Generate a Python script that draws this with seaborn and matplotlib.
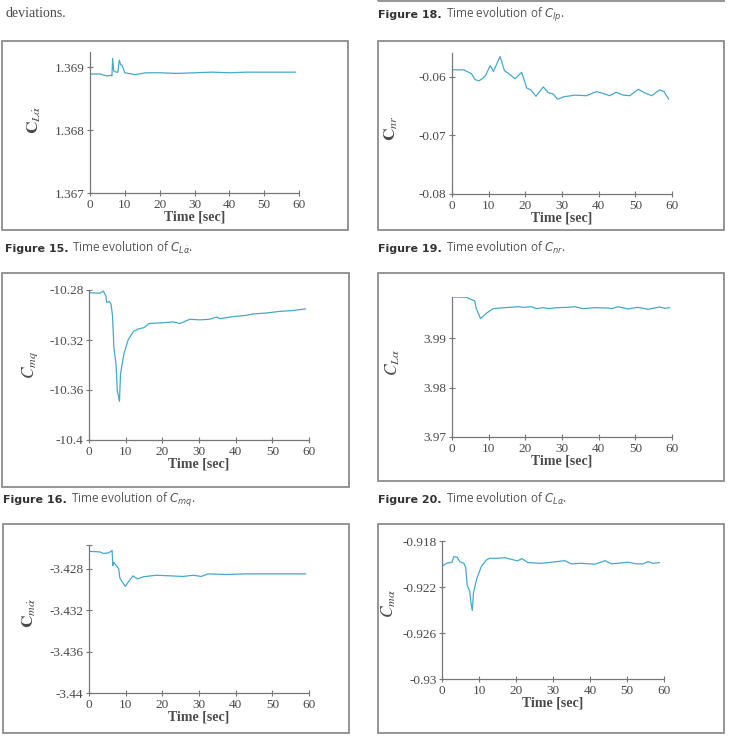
import matplotlib
matplotlib.use('Agg')
import matplotlib.pyplot as plt
import seaborn as sns
import pandas as pd
from matplotlib.patches import Rectangle

sns.set_theme(style='white')
plt.rcParams['font.family'] = ['Liberation Serif', 'DejaVu Serif']
plt.rcParams['mathtext.fontset'] = 'stix'
plt.rcParams['axes.unicode_minus'] = False

W, H = 731, 744
LINE = '#45a9cc'
GREY = '#8c8c8c'
TXT = '#4a4a4a'

# --- data ---
t_lad = [0, 3, 4, 5, 6, 6.3, 6.5, 6.8, 7.5, 8, 8.4, 8.8, 9.2, 10, 11, 13, 14, 16,
         20, 25, 30, 35, 40, 45, 50, 55, 59]
c_lad = [1.36889, 1.36889, 1.36887, 1.36886, 1.36887, 1.36886, 1.36914, 1.36894,
         1.36892, 1.36892, 1.36911, 1.36904, 1.36903, 1.36891, 1.36890, 1.36888,
         1.36889, 1.36891, 1.36891, 1.36890, 1.36891, 1.36892, 1.36891, 1.36892,
         1.36892, 1.36892, 1.36892]

t_nr = [0, 3.2, 5.3, 6.3, 7.3, 8.3, 9.2, 10.4, 11.3, 13.1, 14.3, 15.4, 17.2, 19,
        20.4, 21.5, 22.9, 24.9, 26.3, 27.6, 28.8, 30.4, 33.5, 36.7, 39.4, 41.7,
        43, 44.8, 46.7, 48.5, 50.8, 52.5, 54.5, 56.6, 57.8, 59.1]
c_nr = [-0.05878, -0.05878, -0.05944, -0.06044, -0.06067, -0.06028, -0.05972,
        -0.05806, -0.05906, -0.0565, -0.0589, -0.0594, -0.0603, -0.0592, -0.0619,
        -0.0622, -0.0633, -0.0617, -0.0627, -0.0629, -0.0638, -0.0634, -0.0631,
        -0.0632, -0.0625, -0.0629, -0.0632, -0.0626, -0.0631, -0.0632, -0.0621,
        -0.0627, -0.0632, -0.0622, -0.0625, -0.0638]

t_mq = [0, 3, 3.9, 4.6, 4.8, 5.5, 6.0, 6.4, 6.8, 7.4, 7.7, 8.3, 8.6, 9.5, 10.7,
        12.1, 13.4, 15, 16.4, 20.2, 23, 24.8, 27.5, 30.2, 32.9, 34.8, 35.7, 39.3,
        42.9, 44.7, 48.4, 52, 55.6, 59.1]
c_mq = [-10.2821, -10.2826, -10.2808, -10.2847, -10.2899, -10.2891, -10.2912,
        -10.3003, -10.3262, -10.3405, -10.36, -10.3691, -10.347, -10.3314,
        -10.3197, -10.3132, -10.3112, -10.3101, -10.3068, -10.3062, -10.3055,
        -10.3068, -10.3034, -10.3039, -10.3034, -10.3016, -10.3029, -10.3013,
        -10.3003, -10.2992, -10.2984, -10.2971, -10.2964, -10.2951]

t_la = [0.3, 3.9, 5.3, 6.2, 6.6, 7.8, 9.4, 11.2, 14.4, 18, 19.8, 21.6, 23, 24.8,
        26.6, 28.5, 31.6, 33.5, 35.7, 38.9, 42.5, 43.5, 45.3, 48, 50.7, 53.5,
        56.6, 58, 59.4]
c_la = [3.99830, 3.99824, 3.99778, 3.99752, 3.99601, 3.99392, 3.99503, 3.99595,
        3.99614, 3.99634, 3.99621, 3.99634, 3.99595, 3.99614, 3.99595, 3.99614,
        3.99621, 3.99634, 3.99595, 3.99614, 3.99608, 3.99595, 3.99634, 3.99588,
        3.99621, 3.99582, 3.99627, 3.99601, 3.99614]

t_mad = [0, 3, 3.9, 5.3, 6.0, 6.3, 6.5, 6.7, 7.6, 8.1, 8.4, 9, 9.9, 10.8, 12,
         13.2, 14.8, 18.4, 22.1, 25.7, 28.4, 30.6, 32.5, 37.5, 42.9, 48.4, 53.8,
         59.1]
c_mad = [-3.42631, -3.42637, -3.42652, -3.42646, -3.42631, -3.42622, -3.42769,
         -3.42738, -3.42775, -3.428, -3.42886, -3.42923, -3.42969, -3.42923,
         -3.42868, -3.42898, -3.42877, -3.42862, -3.42868, -3.42874, -3.42862,
         -3.42874, -3.42849, -3.42855, -3.42849, -3.42849, -3.42849, -3.42849]

t_ma = [0.05, 0.15, 1.2, 2.7, 3.2, 4.1, 4.8, 5.9, 6.4, 6.8, 7.5, 7.9, 8.2, 8.5,
        9.3, 10.6, 12, 12.9, 15.1, 16.9, 18.7, 20.4, 21.6, 23.2, 26.8, 29.5,
        33.2, 34.9, 37.7, 41.3, 44.1, 45.8, 50.3, 52.5, 54.3, 55.7, 57, 58.8]
c_ma = [-0.9190, -0.92017, -0.91994, -0.91985, -0.91936, -0.91942, -0.91979,
        -0.91994, -0.92028, -0.92182, -0.92239, -0.92355, -0.92404, -0.92254,
        -0.92138, -0.92023, -0.91965, -0.9195, -0.9195, -0.91945, -0.91959,
        -0.91973, -0.91953, -0.91988, -0.91994, -0.91985, -0.91971, -0.91999,
        -0.91994, -0.92002, -0.91971, -0.91999, -0.91985, -0.91999, -0.91999,
        -0.91979, -0.91994, -0.91988]

panels = [
    # (t, c, axes box px l r t b, ylim, yticks, labels, ylabel, label pos)
    (t_lad, c_lad, (90, 299, 52, 193), (1.367, 1.36924),
     [1.367, 1.368, 1.369], ['1.367', '1.368', '1.369'],
     r'$\mathbf{C}_{L\dot{\alpha}}$', (-0.225, 0.52)),
    (t_nr, c_nr, (452, 672, 53, 194), (-0.08, -0.0559),
     [-0.08, -0.07, -0.06], ['-0.08', '-0.07', '-0.06'],
     r'$\mathbf{C}_{nr}$', (-0.236, 0.47)),
    (t_mq, c_mq, (89, 309, 290, 440), (-10.4, -10.28),
     [-10.4, -10.36, -10.32, -10.28], ['-10.4', '-10.36', '-10.32', '-10.28'],
     r'$C_{mq}$', (-0.223, 0.5)),
    (t_la, c_la, (452, 672, 297, 437), (3.97, 3.9983),
     [3.97, 3.98, 3.99], ['3.97', '3.98', '3.99'],
     r'$C_{L\alpha}$', (-0.227, 0.53)),
    (t_mad, c_mad, (89, 309, 545, 693), (-3.44, -3.4257),
     [-3.44, -3.436, -3.432, -3.428, -3.4257], ['-3.44', '-3.436', '-3.432', '-3.428', ''],
     r'$\mathbf{C}_{m\dot{\alpha}}$', (-0.23, 0.54)),
    (t_ma, c_ma, (442, 664, 541, 679), (-0.93, -0.918),
     [-0.93, -0.926, -0.922, -0.918], ['-0.93', '-0.926', '-0.922', '-0.918'],
     r'$C_{m\alpha}$', (-0.2, 0.55)),
]

frames = [(2, 348, 41, 230), (378, 724, 41, 230), (2, 349, 273, 487),
          (378, 724, 273, 481), (3, 349, 524, 733), (378, 724, 524, 733),
          (378, 724, -20, 1)]

captions = [
    (378, 18, 'Figure 18.', r'Time evolution of $C_{lp}$.'),
    (5, 252, 'Figure 15.', r'Time evolution of $C_{L\dot{\alpha}}$.'),
    (378, 252, 'Figure 19.', r'Time evolution of $C_{nr}$.'),
    (3, 503, 'Figure 16.', r'Time evolution of $C_{mq}$.'),
    (378, 503, 'Figure 20.', r'Time evolution of $C_{L\alpha}$.'),
]

fig = plt.figure(figsize=(W / 100, H / 100), dpi=100)

for l, r, t, b in frames:
    fig.patches.append(Rectangle((l / W, 1 - b / H), (r - l) / W, (b - t) / H,
                                 transform=fig.transFigure, fill=False,
                                 edgecolor=GREY, linewidth=1.3))

for t, c, box, ylim, yt, ytl, ylab, lpos in panels:
    l, r, top, bot = box
    ax = fig.add_axes([l / W, 1 - bot / H, (r - l) / W, (bot - top) / H])
    df = pd.DataFrame({'t': t, 'c': c})
    sns.lineplot(data=df, x='t', y='c', ax=ax, color=LINE, linewidth=0.9)
    ax.set_xlim(0, 60)
    ax.set_ylim(*ylim)
    ax.set_xticks(range(0, 61, 10))
    ax.set_yticks(yt, ytl)
    for s in ['top', 'right']:
        ax.spines[s].set_visible(False)
    for s in ['left', 'bottom']:
        ax.spines[s].set_color('#777777')
        ax.spines[s].set_linewidth(0.9)
    ax.tick_params(direction='inout', length=4, width=0.8, color='#777777',
                   labelsize=9.5, labelcolor=TXT, pad=2, bottom=True, left=True)
    ax.set_xlabel('Time [sec]', fontsize=10, fontweight='bold', color=TXT, labelpad=0)
    ax.set_ylabel(ylab, fontsize=12.5, color=TXT)
    ax.yaxis.set_label_coords(*lpos)
    ax.patch.set_alpha(0)

fig.text(5 / W, 1 - 17 / H, 'deviations.', fontsize=10, color=TXT, va='baseline')

renderer = fig.canvas.get_renderer()
for x, y, bold, rest in captions:
    t1 = fig.text(x / W, 1 - y / H, bold, fontsize=8, fontweight='bold',
                  family='DejaVu Sans', color='#333333', va='baseline')
    w = t1.get_window_extent(renderer=renderer).width
    fig.text((x + w + 4) / W, 1 - y / H, rest, fontsize=8.5, family='Open Sans',
             color='#555555', va='baseline', math_fontfamily='dejavusans')

fig.savefig('out.png', dpi=100)
